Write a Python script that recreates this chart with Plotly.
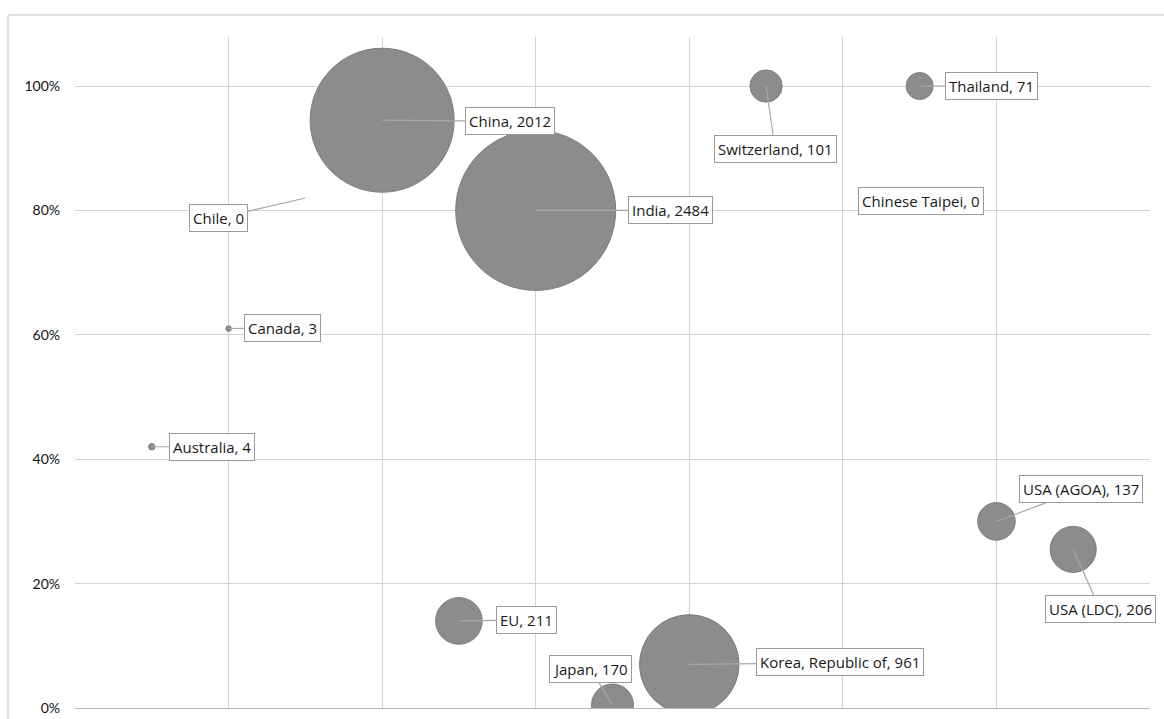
import plotly.graph_objects as go

# Preference schemes: share of tariff lines (y) and number of lines (bubble size)
schemes = ["Australia", "Canada", "Chile", "China", "EU", "India", "Japan",
           "Korea, Republic of", "Switzerland", "Chinese Taipei", "Thailand",
           "USA (AGOA)", "USA (LDC)"]
position = [0.5, 1.0, 1.5, 2.0, 2.5, 3.0, 3.5, 4.0, 4.5, 5.0, 5.5, 6.0, 6.5]
share = [0.42, 0.61, 0.82, 0.945, 0.14, 0.80, 0.005, 0.07, 1.0, 0.815, 1.0, 0.30, 0.255]
lines = [4, 3, 0, 2012, 211, 2484, 170, 961, 101, 0, 71, 137, 206]

y_ticks = [0, 0.2, 0.4, 0.6, 0.8, 1.0]
y_tick_text = ["0%", "20%", "40%", "60%", "80%", "100%"]

# label offsets from each bubble centre, in pixels (dx, dy)
label_offset = {
    "Australia": (60, 0),
    "Canada": (54, -1),
    "Chile": (-87, 20),
    "China": (128, 1),
    "EU": (68, -1),
    "India": (135, 0),
    "Japan": (-22, -36),
    "Korea, Republic of": (151, -2),
    "Switzerland": (9, 63),
    "Chinese Taipei": (78, 0),
    "Thailand": (72, 0),
    "USA (AGOA)": (85, -32),
    "USA (LDC)": (27, 60),
}
no_leader = {"Chinese Taipei"}

MAX_DIAMETER = 160
sizeref = 2.0 * max(lines) / MAX_DIAMETER ** 2

fig = go.Figure()
fig.add_trace(go.Scatter(
    x=position, y=share, mode="markers",
    marker=dict(size=lines, sizemode="area", sizeref=sizeref, sizemin=0,
                color="#8c8c8c", line=dict(color="#7c7c7c", width=1), opacity=1),
    hoverinfo="skip", cliponaxis=True, showlegend=False,
))

label_font = dict(family="Open Sans, Lato, sans-serif", size=15, color="#1a1a1a")
for name, xv, yv, n in zip(schemes, position, share, lines):
    dx, dy = label_offset[name]
    common = dict(x=xv, y=yv, xref="x", yref="y", text=f"{name}, {n}",
                  font=label_font, bgcolor="white", bordercolor="#9a9a9a",
                  borderwidth=1, borderpad=3)
    if name in no_leader:
        fig.add_annotation(**common, showarrow=False, xshift=dx, yshift=-dy)
    else:
        fig.add_annotation(**common, showarrow=True, arrowhead=0, arrowwidth=1.2,
                           arrowcolor="#a8a8a8", ax=dx, ay=dy, standoff=0)

# chart-area frame (left and top edges)
fig.add_shape(type="line", xref="paper", yref="paper", x0=-0.0623, x1=-0.0623,
              y0=-0.02, y1=1.0328, line=dict(color="#c4c4c4", width=1))
fig.add_shape(type="line", xref="paper", yref="paper", x0=-0.0623, x1=1.02,
              y0=1.0328, y1=1.0328, line=dict(color="#c4c4c4", width=1))

fig.update_xaxes(range=[0, 7], dtick=1, tick0=0, showticklabels=False,
                 showgrid=True, gridcolor="#d2d2d2", gridwidth=1,
                 zeroline=False, showline=True, linecolor="#b8b8b8", mirror=False,
                 fixedrange=True, automargin=False)
fig.update_yaxes(range=[0, 1.0788], tickvals=y_ticks, ticktext=y_tick_text,
                 showgrid=True, gridcolor="#d2d2d2", gridwidth=1,
                 zeroline=False, showline=False, ticks="", ticklabelstandoff=14,
                 tickfont=dict(family="Lato, Open Sans, sans-serif", size=14, color="#111111"),
                 fixedrange=True, automargin=False)

fig.update_layout(
    width=1164, height=719,
    margin=dict(l=75, r=14, t=37, b=11, pad=0),
    paper_bgcolor="white", plot_bgcolor="white",
    hovermode=False,
)

fig.write_html("out.html")
